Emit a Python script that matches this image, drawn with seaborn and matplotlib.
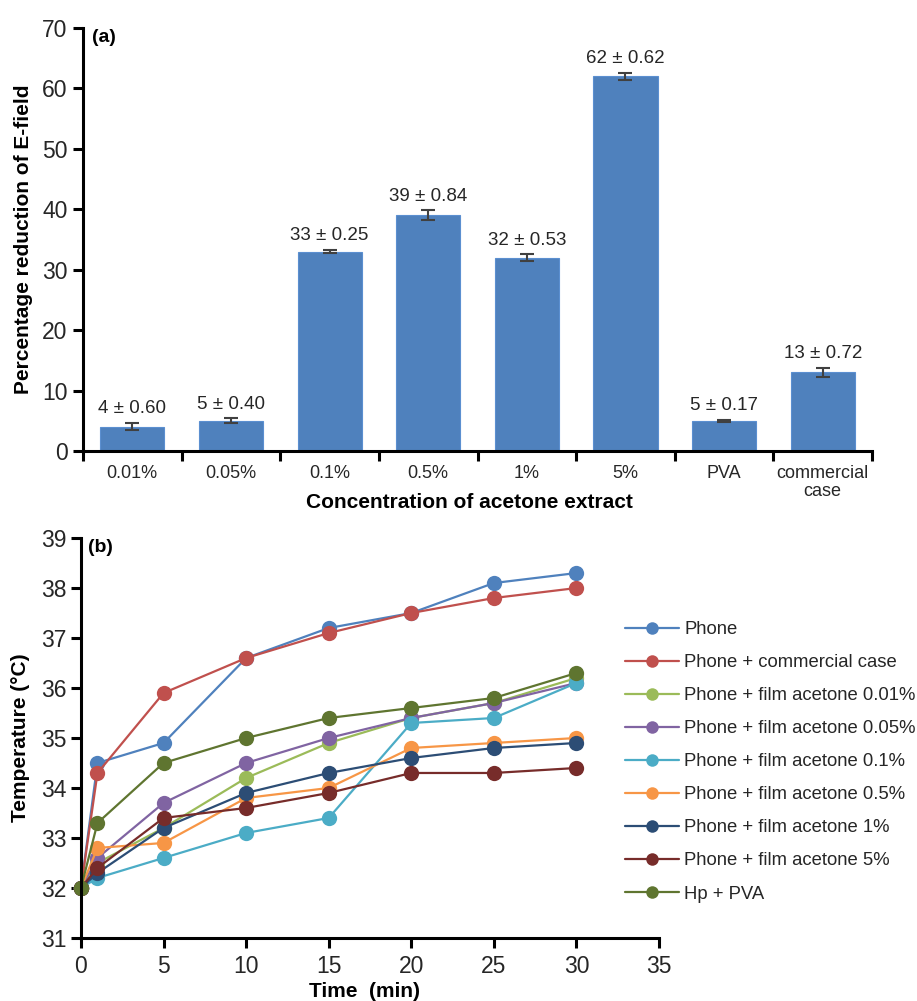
import numpy as np
import pandas as pd
import matplotlib
matplotlib.use("Agg")
import matplotlib.pyplot as plt
import seaborn as sns

# ---------------- data ----------------
bar_categories = ["0.01%", "0.05%", "0.1%", "0.5%", "1%", "5%", "PVA", "commercial\ncase"]
bar_values = [4, 5, 33, 39, 32, 62, 5, 13]
bar_errors = [0.60, 0.40, 0.25, 0.84, 0.53, 0.62, 0.17, 0.72]
bar_labels = ["4 ± 0.60", "5 ± 0.40", "33 ± 0.25", "39 ± 0.84", "32 ± 0.53",
              "62 ± 0.62", "5 ± 0.17", "13 ± 0.72"]

time_min = [0, 1, 5, 10, 15, 20, 25, 30]
series_names = ["Phone", "Phone + commercial case", "Phone + film acetone 0.01%",
                "Phone + film acetone 0.05%", "Phone + film acetone 0.1%",
                "Phone + film acetone 0.5%", "Phone + film acetone 1%",
                "Phone + film acetone 5%", "Hp + PVA"]
phone = [32, 34.5, 34.9, 36.6, 37.2, 37.5, 38.1, 38.3]
phone_commercial = [32, 34.3, 35.9, 36.6, 37.1, 37.5, 37.8, 38.0]
film_001 = [32, 32.5, 33.2, 34.2, 34.9, 35.4, 35.7, 36.2]
film_005 = [32, 32.6, 33.7, 34.5, 35.0, 35.4, 35.7, 36.1]
film_01 = [32, 32.2, 32.6, 33.1, 33.4, 35.3, 35.4, 36.1]
film_05 = [32, 32.8, 32.9, 33.8, 34.0, 34.8, 34.9, 35.0]
film_1 = [32, 32.3, 33.2, 33.9, 34.3, 34.6, 34.8, 34.9]
film_5 = [32, 32.4, 33.4, 33.6, 33.9, 34.3, 34.3, 34.4]
hp_pva = [32, 33.3, 34.5, 35.0, 35.4, 35.6, 35.8, 36.3]
series_values = [phone, phone_commercial, film_001, film_005, film_01,
                 film_05, film_1, film_5, hp_pva]
series_colors = ["#4F81BD", "#C0504D", "#9BBB59", "#8064A2", "#4BACC6",
                 "#F79646", "#2C4D75", "#772C2A", "#5F7530"]

# ---------------- style ----------------
sns.set_style("white")
plt.rcParams["font.family"] = ["Liberation Sans", "DejaVu Sans"]
plt.rcParams["axes.linewidth"] = 2.2

fig = plt.figure(figsize=(9.17, 10.01), dpi=100)

# ---------------- panel (a) ----------------
ax1 = fig.add_axes([0.0905, 0.5495, 0.8605, 0.4225])
bar_df = pd.DataFrame({"cat": bar_categories, "val": bar_values})
sns.barplot(data=bar_df, x="cat", y="val", color="#4F81BD", saturation=1,
            width=0.65, ax=ax1, edgecolor="#5B8FD0", linewidth=0.8)
xpos = np.arange(len(bar_categories))
ax1.errorbar(xpos, bar_values, yerr=bar_errors, fmt="none", ecolor="#404040",
             elinewidth=1.5, capsize=5, capthick=1.5)
for x, v, e, lab in zip(xpos, bar_values, bar_errors, bar_labels):
    ax1.annotate(lab, (x, v + e), xytext=(0, 7), textcoords="offset points",
                 ha="center", va="baseline", fontsize=13.5, color="#262626")
ax1.set_ylim(0, 70)
ax1.set_xlim(-0.5, len(bar_categories) - 0.5)
ax1.set_yticks(range(0, 71, 10))
ax1.set_xticks(xpos)
ax1.set_xticklabels(bar_categories, fontsize=13, color="#262626", linespacing=1.1)
ax1.tick_params(axis="x", length=0, pad=10)
ax1.set_xticks(np.arange(-0.5, len(bar_categories), 1.0), minor=True)
ax1.tick_params(axis="x", which="minor", length=7, width=2.2, direction="out",
                bottom=True, color="black")
ax1.tick_params(axis="y", length=7, width=2.2, direction="out", left=True,
                labelsize=16.5, labelcolor="#262626", color="black", pad=4)
for sp in ["top", "right"]:
    ax1.spines[sp].set_visible(False)
for sp in ["left", "bottom"]:
    ax1.spines[sp].set_color("black")
ax1.set_xlabel("Concentration of acetone extract", fontsize=15, fontweight="bold",
               color="black", va="center")
ax1.xaxis.set_label_coords(0.49, -0.123)
ax1.set_ylabel("Percentage reduction of E-field", fontsize=15, fontweight="bold",
               color="black", va="center")
ax1.yaxis.set_label_coords(-0.075, 0.5)
ax1.text(0.012, 0.998, "(a)", transform=ax1.transAxes, fontsize=14,
         fontweight="bold", ha="left", va="top", color="black")

# ---------------- panel (b) ----------------
ax2 = fig.add_axes([0.0883, 0.063, 0.6304, 0.3995])
rows = []
for name, vals in zip(series_names, series_values):
    for t, v in zip(time_min, vals):
        rows.append({"time": t, "temp": v, "series": name})
line_df = pd.DataFrame(rows)
sns.lineplot(data=line_df, x="time", y="temp", hue="series", hue_order=series_names,
             palette=series_colors, marker="o", markersize=11, markeredgewidth=0,
             linewidth=1.6, ax=ax2, legend=True, sort=False)
ax2.set_xlim(0, 35)
ax2.set_ylim(31, 39)
ax2.set_xticks(range(0, 36, 5))
ax2.set_yticks(range(31, 40))
ax2.tick_params(axis="both", length=7, width=2.2, direction="out", bottom=True,
                left=True, labelsize=16.5, labelcolor="#262626", color="black")
ax2.tick_params(axis="x", pad=5)
for sp in ["top", "right"]:
    ax2.spines[sp].set_visible(False)
for sp in ["left", "bottom"]:
    ax2.spines[sp].set_color("black")
ax2.set_xlabel("Time  (min)", fontsize=15, fontweight="bold", color="black",
               va="center")
ax2.xaxis.set_label_coords(0.49, -0.135)
ax2.set_ylabel("Temperature (°C)", fontsize=15, fontweight="bold", color="black",
               va="center")
ax2.yaxis.set_label_coords(-0.104, 0.5)
ax2.text(0.012, 0.998, "(b)", transform=ax2.transAxes, fontsize=14,
         fontweight="bold", ha="left", va="top", color="black")
for ln in ax2.lines:
    ln.set_clip_on(False)

handles, labels = ax2.get_legend_handles_labels()
ax2.get_legend().remove()
for h in handles:
    h.set_markersize(9)
fig.legend(handles, labels, loc="upper left", bbox_to_anchor=(0.674, 0.387),
           frameon=False, fontsize=13.3, handlelength=2.9, handletextpad=0.27,
           labelspacing=0.87, borderaxespad=0, labelcolor="#262626")

fig.savefig("out.png", dpi=100)
